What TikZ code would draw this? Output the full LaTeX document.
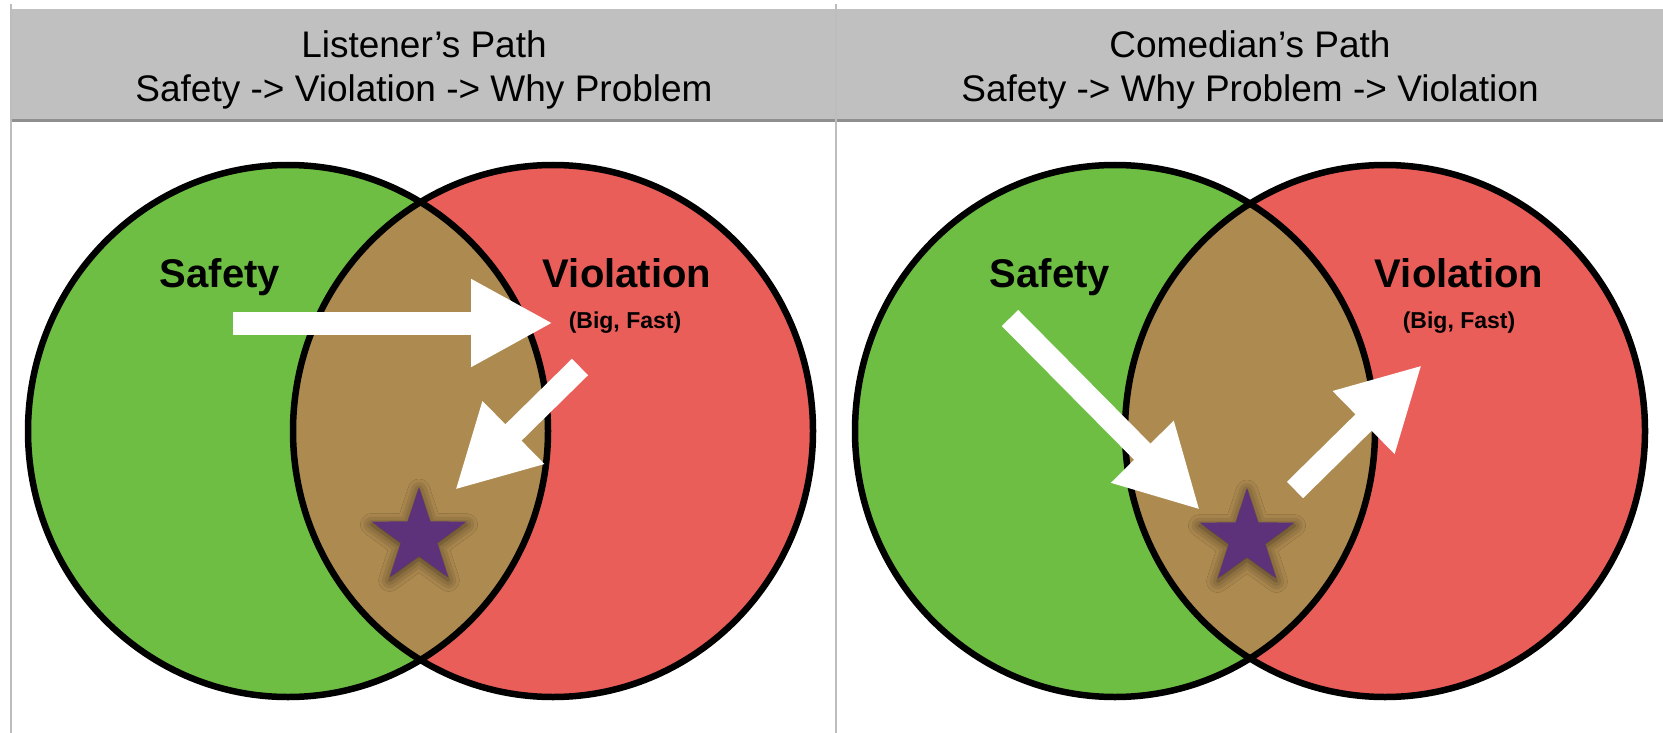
\documentclass[tikz,border=0pt]{standalone}
\usepackage{fontspec}
\setmainfont{Liberation Sans}
\usetikzlibrary{arrows.meta,shapes.geometric,shadows.blur}

\definecolor{safegreen}{HTML}{6EBE44}
\definecolor{violred}{HTML}{EA5E5A}
\definecolor{lensbrown}{HTML}{AD8A50}
\definecolor{starpurple}{HTML}{5E327A}
\definecolor{headgray}{HTML}{BFC0BF}
\definecolor{rulegray}{HTML}{8F8F8F}
\definecolor{bordergray}{HTML}{BDBDBD}

\begin{document}
\begin{tikzpicture}[x=1pt,y=-1pt,
    header/.style={align=center, inner sep=0pt, font=\fontsize{37}{44}\selectfont},
    setname/.style={anchor=base, inner sep=0pt, font=\fontsize{40}{48}\selectfont\bfseries},
    setnote/.style={anchor=base, inner sep=0pt, font=\fontsize{23}{27}\selectfont\bfseries},
    flow/.style={draw=white, line width=23pt, -{Triangle[width=82pt,length=82pt]}},
    starmark/.style={star, star points=5, star point ratio=2.6, minimum size=100pt,
        inner sep=0pt, fill=starpurple,
        blur shadow={shadow xshift=0pt, shadow yshift=-3pt, shadow scale=1.0,
            shadow blur radius=11pt, shadow opacity=60}},
    venn/.style={draw=black, line width=6.5pt}]
    \useasboundingbox (0,0) rectangle (1663,733);

    % Draw table header and borders
    \fill[headgray] (11,9) rectangle (1663,121);
    \draw[rulegray, line width=3pt] (11,121) -- (1663,121);
    \draw[bordergray, line width=2pt] (11,4) -- (11,733);
    \draw[bordergray, line width=2pt] (836,4) -- (836,733);

    \node[header] (hleft) at (424,70) {Listener's Path\\Safety -> Violation -> Why Problem};
    \node[header] (hright) at (1250,70) {Comedian's Path\\Safety -> Why Problem -> Violation};

    % Circle centres
    \coordinate (gl) at (288,431);
    \coordinate (rl) at (553,431);
    \coordinate (gr) at (1115,431);
    \coordinate (rr) at (1385,431);

    % Draw the two Venn diagrams
    \foreach \g/\r in {gl/rl, gr/rr} {
        \fill[safegreen] (\g) ellipse [x radius=260pt, y radius=266pt];
        \fill[violred] (\r) ellipse [x radius=260pt, y radius=266pt];
        \begin{scope}
            \clip (\g) ellipse [x radius=260pt, y radius=266pt];
            \fill[lensbrown] (\r) ellipse [x radius=260pt, y radius=266pt];
        \end{scope}
        \draw[venn] (\g) ellipse [x radius=260pt, y radius=266pt];
        \draw[venn] (\r) ellipse [x radius=260pt, y radius=266pt];
    }

    % Set labels
    \node[setname] (safel) at (220,287) {Safety};
    \node[setname] (violl) at (627,287) {Violation};
    \node[setnote] (notel) at (625,328) {(Big, Fast)};
    \node[setname] (safer) at (1050,287) {Safety};
    \node[setname] (violr) at (1459,287) {Violation};
    \node[setnote] (noter) at (1459,328) {(Big, Fast)};

    % The "why problem" stars
    \node[starmark] (starl) at (419,537) {};
    \node[starmark] (starr) at (1247,538) {};

    % Listener's path arrows
    \coordinate (la1) at (233,323);
    \coordinate (la2) at (553,323);
    \coordinate (lb1) at (580,367);
    \coordinate (lb2) at (455,490);
    \draw[flow] (la1) -- (la2);
    \draw[flow] (lb1) -- (lb2);

    % Comedian's path arrows
    \coordinate (ra1) at (1010,318);
    \coordinate (ra2) at (1200,510);
    \coordinate (rb1) at (1295,490);
    \coordinate (rb2) at (1422,365);
    \draw[flow] (ra1) -- (ra2);
    \draw[flow] (rb1) -- (rb2);
\end{tikzpicture}
\end{document}
